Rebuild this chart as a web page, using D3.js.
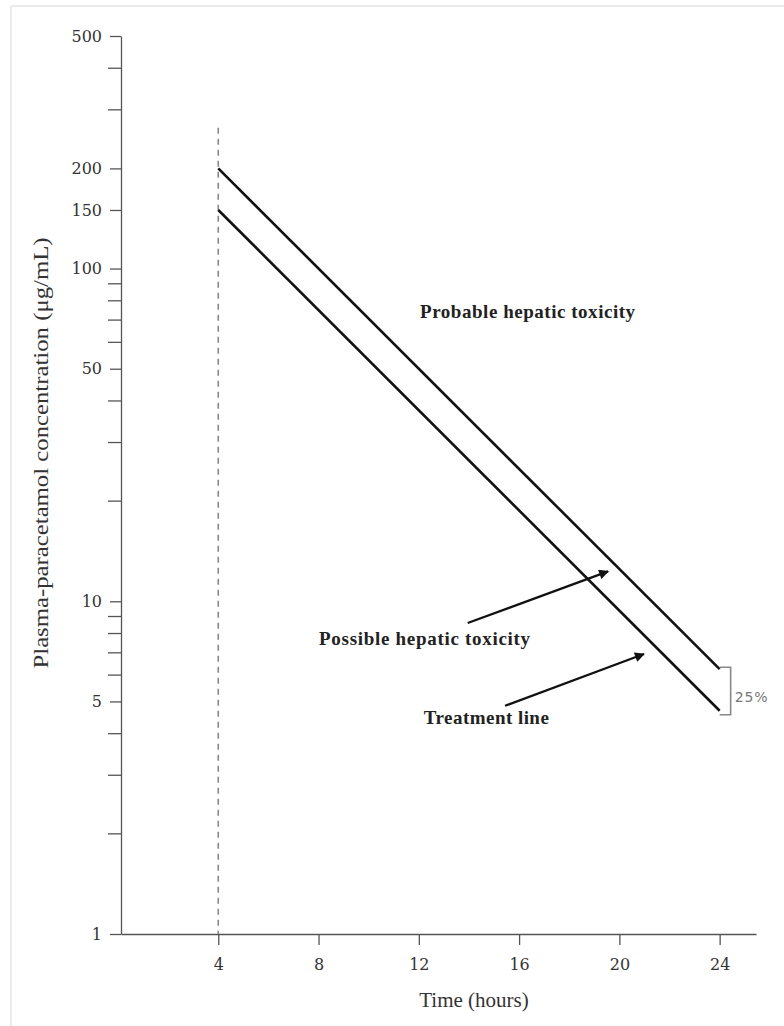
<!DOCTYPE html>
<html lang="en">
<head>
<meta charset="UTF-8">
<title>Paracetamol nomogram</title>
<script src="https://d3js.org/d3.v7.min.js"></script>
<style>
  body { margin: 0; background: #fff; }
  svg { display: block; }
  .note { font-family: "Liberation Serif", "Times New Roman", serif; font-weight: bold; font-size: 19px; fill: #222; }
</style>
</head>
<body>
<svg id="chart" width="784" height="1026"></svg>
<script>
// time points (hours) and the two lines
const hours = [4, 24];
const probableLine = [200, 6.25];      // upper line
const treatmentLine = [150, 4.6875];   // lower line (treatment)

const xTicks = [4, 8, 12, 16, 20, 24];
const yMajor = [1, 5, 10, 50, 100, 150, 200, 500];
const yMinor = [2, 3, 4, 6, 7, 8, 9, 20, 30, 40, 60, 70, 80, 90, 300, 400];

// annotation arrows [from, to] in [hours, concentration]
const arrowPossible = [[13.95, 8.6], [19.55, 12.3]];
const arrowTreatment = [[15.44, 4.85], [20.98, 6.94]];

const serif = '"Liberation Serif", "Times New Roman", serif';
const tickFont = '"DejaVu Serif", serif';
const svg = d3.select('#chart');

// faint frame at top and left
svg.append('line').attr('x1', 11).attr('x2', 784).attr('y1', 6).attr('y2', 6)
  .attr('stroke', '#e4e4e4').attr('stroke-width', 1.5);
svg.append('line').attr('x1', 11).attr('x2', 11).attr('y1', 6).attr('y2', 1026)
  .attr('stroke', '#e4e4e4').attr('stroke-width', 1.5);

const x = d3.scaleLinear().domain([0.12, 25.45]).range([121, 756]);
const y = d3.scaleLog().domain([1, 500]).range([934, 36]);

svg.append('defs').append('marker')
  .attr('id', 'head')
  .attr('viewBox', '0 0 10 10')
  .attr('refX', 9).attr('refY', 5)
  .attr('markerWidth', 5).attr('markerHeight', 4.5)
  .attr('orient', 'auto')
  .append('path').attr('d', 'M0,0L10,5L0,10z').attr('fill', '#111');

// y axis
const yAxis = svg.append('g')
  .attr('transform', `translate(${x(0.12)},0)`)
  .call(d3.axisLeft(y).tickValues(yMajor).tickFormat(d3.format('d')).tickSize(11).tickPadding(8).tickSizeOuter(0));
yAxis.append('g').selectAll('line')
  .data(yMinor).enter().append('line')
  .attr('x1', -13).attr('x2', 0)
  .attr('y1', d => y(d)).attr('y2', d => y(d))
  .attr('stroke', 'currentColor');

// x axis
const xAxis = svg.append('g')
  .attr('transform', `translate(0,${y(1)})`)
  .call(d3.axisBottom(x).tickValues(xTicks).tickSize(11).tickPadding(14).tickSizeOuter(0));

[xAxis, yAxis].forEach(g => {
  g.attr('font-family', tickFont).attr('font-size', 16);
  g.selectAll('text').attr('fill', '#333')
    .style('font-family', tickFont).style('font-size', '16px');
});

svg.selectAll('.domain, .tick line').attr('stroke', '#555').attr('stroke-width', 1.3);
yAxis.selectAll('g > line').attr('stroke', '#555').attr('stroke-width', 1.3);

// axis titles
svg.append('text')
  .attr('transform', `translate(48,${453}) rotate(-90)`)
  .attr('text-anchor', 'middle')
  .style('font-family', serif)
  .style('font-size', '22px').attr('fill', '#333')
  .attr('textLength', 431).attr('lengthAdjust', 'spacingAndGlyphs')
  .text('Plasma-paracetamol concentration (μg/mL)');

svg.append('text')
  .attr('x', x(14.2)).attr('y', 1007)
  .attr('text-anchor', 'middle')
  .style('font-family', serif)
  .style('font-size', '21px').attr('fill', '#333')
  .text('Time (hours)');

// 4 hour dashed marker
svg.append('line')
  .attr('x1', x(4)).attr('x2', x(4))
  .attr('y1', y(265)).attr('y2', y(1))
  .attr('stroke', '#888').attr('stroke-width', 1.6)
  .attr('stroke-dasharray', '6,5');

// nomogram lines
const line = d3.line().x(d => x(d[0])).y(d => y(d[1]));
[probableLine, treatmentLine].forEach(vals => {
  svg.append('path')
    .datum(hours.map((h, i) => [h, vals[i]]))
    .attr('d', line)
    .attr('fill', 'none')
    .attr('stroke', '#111')
    .attr('stroke-width', 2.6);
});

// 25% bracket at 24 h
const bx = x(24) + 11;
svg.append('path')
  .attr('d', `M${x(24)},${y(probableLine[1]) - 2}H${bx}V${y(treatmentLine[1]) + 4}H${x(24)}`)
  .attr('fill', 'none').attr('stroke', '#888').attr('stroke-width', 1.6);
svg.append('text')
  .attr('x', bx + 4).attr('y', 702)
  .style('font-family', '"DejaVu Sans", sans-serif')
  .style('font-size', '14px').attr('fill', '#777')
  .attr('textLength', 33)
  .text('25%');

// arrows
[arrowPossible, arrowTreatment].forEach(a => {
  svg.append('line')
    .attr('x1', x(a[0][0])).attr('y1', y(a[0][1]))
    .attr('x2', x(a[1][0])).attr('y2', y(a[1][1]))
    .attr('stroke', '#111').attr('stroke-width', 2.2)
    .attr('marker-end', 'url(#head)');
});

// region labels
svg.append('text').attr('class', 'note')
  .attr('x', x(12.05)).attr('y', y(71))
  .attr('textLength', 215)
  .text('Probable hepatic toxicity');
svg.append('text').attr('class', 'note')
  .attr('x', x(8.02)).attr('y', y(7.39))
  .attr('textLength', 211)
  .text('Possible hepatic toxicity');
svg.append('text').attr('class', 'note')
  .attr('x', x(12.2)).attr('y', y(4.28))
  .attr('textLength', 125)
  .text('Treatment line');
</script>
</body>
</html>
